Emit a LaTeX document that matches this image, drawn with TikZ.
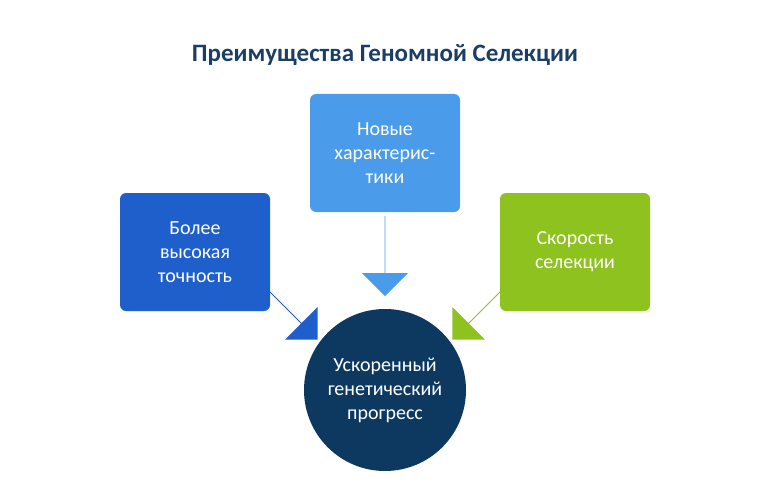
\documentclass[tikz,border=0pt]{standalone}
\usepackage{fontspec}
\setmainfont{Carlito}
\usetikzlibrary{shapes.arrows}
\definecolor{ttl}{HTML}{1B3E66}
\definecolor{cA}{HTML}{1F5FCB}
\definecolor{cB}{HTML}{4A9CEB}
\definecolor{cC}{HTML}{8DC21F}
\definecolor{cD}{HTML}{0D3961}
\begin{document}
\begin{tikzpicture}[x=1pt,y=-1pt,
 box/.style={rounded corners=6pt,minimum width=150pt,minimum height=118pt,text=white,font=\fontsize{20}{24}\selectfont,align=center,inner sep=2pt},
 barrow/.style={single arrow,minimum height=#1,minimum width=46pt,single arrow head extend=10pt,inner sep=0pt}]
\useasboundingbox (0,0) rectangle (770,500);
\node[font=\bfseries\fontsize{25}{30}\selectfont,text=ttl] (title) at (385,55) {Преимущества Геномной Селекции};
\node[box,fill=cA] (a) at (195,252) {Более\\высокая\\точность};
\node[box,fill=cB] (b) at (385,153) {Новые\\характерис-\\тики};
\node[box,fill=cC] (c) at (575,252) {Скорость\\селекции};
\node[circle,fill=cD,minimum size=162pt,text=white,font=\fontsize{20}{24}\selectfont,align=center,inner sep=0pt] (d) at (385,390) {Ускоренный\\генетический\\прогресс};
\node[barrow=80pt,fill=cB,rotate=-90] (ab) at (385,256) {};
\node[barrow=72pt,fill=cA,rotate=-45] (aa) at (292,314) {};
\node[barrow=72pt,fill=cC,rotate=-135] (ac) at (478,314) {};
\end{tikzpicture}
\end{document}
